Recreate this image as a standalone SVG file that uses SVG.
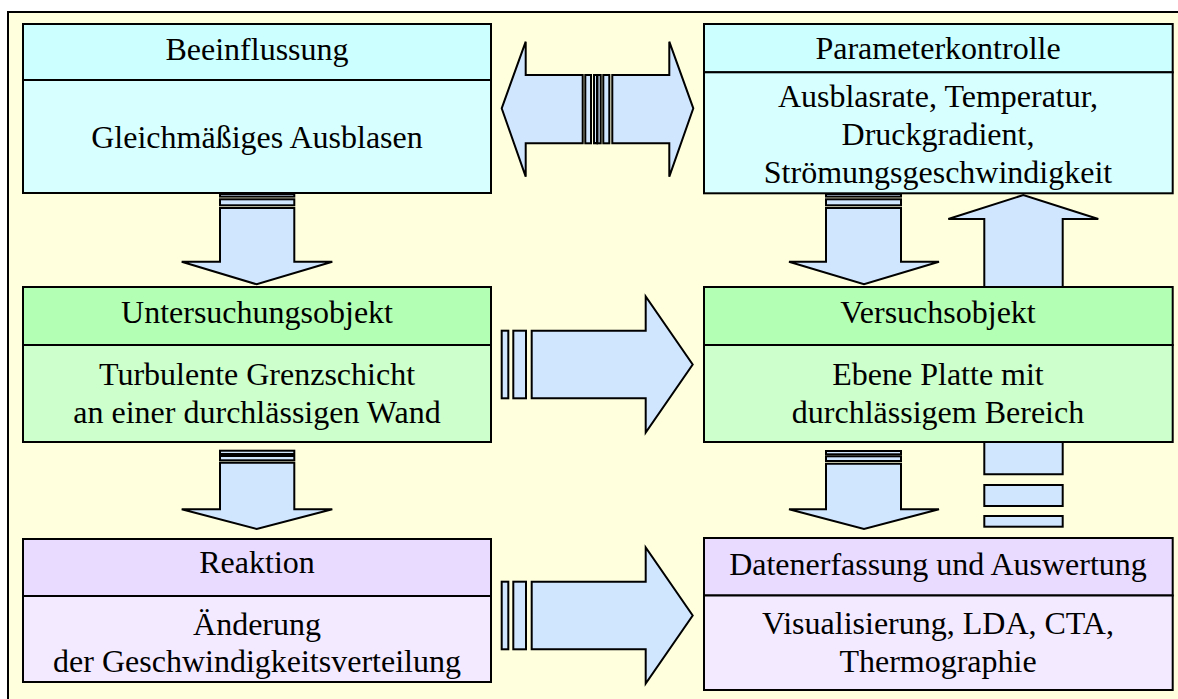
<svg xmlns="http://www.w3.org/2000/svg" width="1178" height="699" viewBox="0 0 1178 699">
<style>
.frame{fill:#FFFFDD;stroke:#000;stroke-width:2}
.arr{fill:#D0E6FF;stroke:#000;stroke-width:2;stroke-linejoin:miter}
.box{stroke:#000;stroke-width:2}
.hb{fill:#CCFFFF}.bb{fill:#D8FFFF}
.hg{fill:#B3FFB3}.bg{fill:#CCFFCC}
.hp{fill:#E9DBFF}.bp{fill:#F3EAFF}
.t{font-size:32px;fill:#000;text-anchor:middle}
</style>
<rect class="frame" x="8" y="12" width="1185" height="700"/>
<g id="connectors">
  <g id="double-arrow">
    <polygon class="arr" points="501.7,108.3 525.7,41.7 525.7,75 582.7,75 582.7,143.3 525.7,143.3 525.7,176.7"/>
    <rect class="arr" x="585.3" y="75" width="5.7" height="68.3"/>
    <rect class="arr" x="594" y="75" width="3" height="68.3"/>
    <rect class="arr" x="597.5" y="75" width="3.2" height="68.3"/>
    <rect class="arr" x="603.3" y="75" width="6" height="68.3"/>
    <polygon class="arr" points="612.3,75 669.3,75 669.3,41.7 693.3,108.3 669.3,176.7 669.3,143.3 612.3,143.3"/>
  </g>
  <g id="down-1">
    <rect class="arr" x="220" y="194" width="74.3" height="2.6"/>
    <rect class="arr" x="220" y="199.3" width="74.3" height="6"/>
    <polygon class="arr" points="220,208 294.3,208 294.3,261.7 332.3,261.7 256.7,284.3 181.7,261.7 220,261.7"/>
  </g>
  <g id="down-2">
    <rect class="arr" x="220" y="450.7" width="74.3" height="3.3"/>
    <rect class="arr" x="220" y="456" width="74.3" height="4.3"/>
    <polygon class="arr" points="220,462.7 294.3,462.7 294.3,509.3 332.3,509.3 256.7,529 181.7,509.3 220,509.3"/>
  </g>
  <g id="down-3">
    <rect class="arr" x="826" y="194" width="75" height="2.6"/>
    <rect class="arr" x="826" y="199.3" width="75" height="6"/>
    <polygon class="arr" points="826,208 901,208 901,261.7 939,261.7 864,284.3 789,261.7 826,261.7"/>
  </g>
  <g id="down-4">
    <rect class="arr" x="826" y="451" width="75" height="3.3"/>
    <rect class="arr" x="826" y="456.3" width="75" height="4.7"/>
    <polygon class="arr" points="826,463.7 901,463.7 901,509.3 939,509.3 864,529 789,509.3 826,509.3"/>
  </g>
  <g id="up-arrow">
    <polygon class="arr" points="984.3,474.3 984.3,219 948.3,219 1023.3,195 1098.3,219 1062.7,219 1062.7,474.3"/>
    <rect class="arr" x="984.3" y="485" width="78.4" height="21"/>
    <rect class="arr" x="984.3" y="516" width="78.4" height="10.7"/>
  </g>
  <g id="right-1">
    <rect class="arr" x="501.7" y="330.7" width="6.6" height="67.6"/>
    <rect class="arr" x="513.3" y="330.7" width="12.7" height="67.6"/>
    <polygon class="arr" points="531.7,330.7 645.7,330.7 645.7,296.5 692.7,364.5 645.7,432.5 645.7,398.3 531.7,398.3"/>
  </g>
  <g id="right-2">
    <rect class="arr" x="501.7" y="581.7" width="6.6" height="67.6"/>
    <rect class="arr" x="513.3" y="581.7" width="12.7" height="67.6"/>
    <polygon class="arr" points="531.7,581.7 645.7,581.7 645.7,547.5 692.7,615.5 645.7,683.5 645.7,649.3 531.7,649.3"/>
  </g>
</g>
<g font-family="'Liberation Serif', 'Times New Roman', 'DejaVu Serif', serif">
<g id="beeinflussung">
  <rect class="box hb" x="23" y="24" width="468" height="56"/>
  <rect class="box bb" x="23" y="80" width="468" height="113"/>
  <text class="t" x="257" y="60">Beeinflussung</text>
  <text class="t" x="257" y="148">Gleichmäßiges Ausblasen</text>
</g>
<g id="parameterkontrolle">
  <rect class="box hb" x="704" y="24" width="468.7" height="48.3"/>
  <rect class="box bb" x="704" y="72.3" width="468.7" height="121"/>
  <text class="t" x="938" y="59.3">Parameterkontrolle</text>
  <text class="t" x="938" y="107.3">Ausblasrate, Temperatur,</text>
  <text class="t" x="938" y="145">Druckgradient,</text>
  <text class="t" x="938" y="182.7">Strömungsgeschwindigkeit</text>
</g>
<g id="untersuchungsobjekt">
  <rect class="box hg" x="23" y="287" width="468" height="58"/>
  <rect class="box bg" x="23" y="345" width="468" height="97"/>
  <text class="t" x="257" y="322.7">Untersuchungsobjekt</text>
  <text class="t" x="257" y="385">Turbulente Grenzschicht</text>
  <text class="t" x="257" y="423.3">an einer durchlässigen Wand</text>
</g>
<g id="versuchsobjekt">
  <rect class="box hg" x="704" y="287" width="468.7" height="58"/>
  <rect class="box bg" x="704" y="345" width="468.7" height="97"/>
  <text class="t" x="938" y="322.7">Versuchsobjekt</text>
  <text class="t" x="938" y="385">Ebene Platte mit</text>
  <text class="t" x="938" y="423.3">durchlässigem Bereich</text>
</g>
<g id="reaktion">
  <rect class="box hp" x="23" y="539" width="468" height="57"/>
  <rect class="box bp" x="23" y="596" width="468" height="86"/>
  <text class="t" x="257" y="573.3">Reaktion</text>
  <text class="t" x="257" y="635">Änderung</text>
  <text class="t" x="257" y="671.7">der Geschwindigkeitsverteilung</text>
</g>
<g id="datenerfassung">
  <rect class="box hp" x="704" y="538" width="468.7" height="57.5"/>
  <rect class="box bp" x="704" y="595.5" width="468.7" height="94.5"/>
  <text class="t" x="938" y="575">Datenerfassung und Auswertung</text>
  <text class="t" x="938" y="634">Visualisierung, LDA, CTA,</text>
  <text class="t" x="938" y="671.7">Thermographie</text>
</g>
</g>
</svg>
